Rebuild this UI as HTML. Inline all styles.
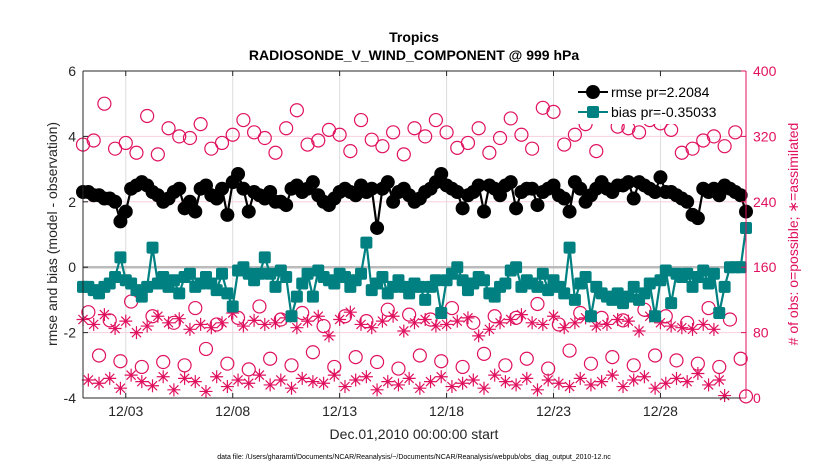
<!DOCTYPE html>
<html><head><meta charset="utf-8"><style>
body{margin:0;background:#fff;font-family:"Liberation Sans",sans-serif}
svg text{font-family:"Liberation Sans",sans-serif}
</style></head><body>
<svg id="chart" width="830" height="470" viewBox="0 0 830 470" xmlns="http://www.w3.org/2000/svg">
<rect width="830" height="470" fill="#fff"/>
<g id="grid"></g><g id="marks"></g><g id="axes"></g>
</svg>
<script>
const rmse=[2.3,2.3,2.2,2.2,2.1,2.1,2.0,1.4,1.7,2.4,2.5,2.6,2.5,2.3,2.2,2.0,2.1,2.3,2.4,1.8,2.0,1.7,2.4,2.5,2.2,2.1,2.4,1.6,2.6,2.85,2.4,1.7,
2.3,2.2,2.1,2.3,2.0,2.0,1.9,2.4,2.5,2.3,2.4,2.6,2.2,2.0,1.9,2.1,2.3,2.4,2.3,2.2,2.5,2.3,2.4,1.2,2.4,2.6,2.0,2.3,2.4,2.2,2.0,2.1,
2.3,2.4,2.6,2.85,2.5,2.4,2.3,1.8,2.2,2.3,2.5,1.7,2.5,2.4,2.2,2.5,2.6,1.8,2.3,2.4,2.4,1.9,2.3,2.4,2.5,2.2,2.1,1.7,2.6,2.4,2.0,2.2,
2.4,2.6,2.4,2.3,2.5,2.5,2.6,2.1,2.6,2.5,2.4,2.3,2.75,2.3,2.3,2.2,2.1,2.0,1.6,1.5,2.4,2.3,2.4,2.2,2.5,2.4,2.3,2.2,1.7];
const bias=[-0.6,-0.6,-0.7,-0.8,-0.6,-0.5,-0.3,0.3,-0.4,-0.5,-0.7,-0.9,-0.6,0.6,-0.5,-0.3,-0.6,-0.4,-0.8,-0.3,-0.2,-0.6,-0.5,-0.3,-0.5,-0.7,-0.2,-0.8,-1.2,-0.1,0.0,-0.2,
-0.4,-0.2,0.3,-0.2,-0.6,-0.1,-0.3,-1.5,-0.9,-0.5,-0.2,-0.9,-0.1,-0.3,-0.4,-0.5,-0.2,-0.3,-0.6,-0.4,-0.2,0.75,-0.7,-0.5,-0.3,-0.8,-0.6,-0.4,-0.6,-0.8,-0.5,-0.6,
-1.0,-0.6,-0.4,-1.4,-0.4,-0.2,0.0,-0.4,-0.7,-0.5,-0.3,-0.4,-0.8,-0.9,-0.6,-0.5,-0.1,0.0,-0.6,-0.4,-0.5,-0.6,-0.2,-0.7,-0.4,-0.6,-0.8,0.6,-1.0,-0.5,-0.3,-1.5,
-0.6,-0.8,-0.9,-1.0,-0.8,-1.1,-0.9,-0.6,-1.0,-0.8,-0.5,-1.5,-0.4,-0.1,-1.1,-0.2,-0.3,-0.2,-0.6,-0.3,-0.1,-0.5,-0.2,-1.4,-0.6,0.0,0.0,0.0,1.2];
const possible=[310,105,315,52,360,95,305,45,312,118,300,38,345,100,298,44,330,92,320,40,318,110,335,60,305,90,312,42,322,98,340,35,
325,112,318,48,300,96,330,40,352,104,310,56,315,88,328,38,322,100,302,50,340,94,316,44,308,108,325,36,298,102,330,52,
320,96,340,45,325,110,306,38,312,92,330,54,300,100,318,40,342,98,322,48,305,115,355,36,350,90,310,58,322,104,335,42,
302,98,345,50,332,95,330,40,325,108,340,52,336,100,328,46,300,92,305,42,315,110,320,38,308,96,325,48,2];
const assimilated=[96,22,90,18,102,24,85,12,94,28,80,20,88,15,100,26,92,10,97,24,84,20,90,8,86,26,92,14,104,22,88,18,
95,28,90,16,92,22,98,12,86,24,94,20,100,18,76,28,96,14,105,22,90,26,86,10,94,20,100,16,
82,24,92,12,96,20,88,26,90,14,94,18,98,22,76,12,84,28,92,20,96,16,102,24,92,10,90,22,100,18,86,14,
92,24,98,16,88,20,90,28,96,14,94,22,82,26,100,12,92,18,88,24,86,20,84,30,90,16,84,22,3];
const xTickLabels=["12/03","12/08","12/13","12/18","12/23","12/28"];
const xTickDays=[2,7,12,17,22,27];
const yLeftTicks=[-4,-2,0,2,4,6];
const yRightTicks=[0,80,160,240,320,400];

const L=83,R=746,T=71,B=398,NS="http://www.w3.org/2000/svg",RED="#e0115f",TEAL="#008080";
const xs=d=>L+d/31*(R-L);
const yl=v=>B-(v+4)/10*(B-T);
const yr=v=>B-v/400*(B-T);
function mk(tag,attrs,parent,txt){const e=document.createElementNS(NS,tag);for(const k in attrs)e.setAttribute(k,attrs[k]);if(txt!==undefined)e.textContent=txt;parent.appendChild(e);return e;}
const grid=document.getElementById('grid'),marks=document.getElementById('marks'),axes=document.getElementById('axes');

xTickDays.forEach((d,i)=>{const g=mk('line',{x1:xs(d),x2:xs(d),y1:T,y2:B,stroke:'#dcdcdc','stroke-width':1},grid);

});
yRightTicks.forEach(v=>{if(v===0||v===400||v===160)return;const g=mk('line',{x1:L,x2:R,y1:yr(v),y2:yr(v),stroke:'#f7cfdc','stroke-width':1},grid);

});
const z=mk('line',{x1:L,x2:R,y1:yl(0),y2:yl(0),stroke:'#bbbbbb','stroke-width':2.5},grid);



const n=rmse.length,xi=i=>xs(i*0.25);
function star(cx,cy,p){const s=6.5,d=s*0.7;const path=`M${cx-s},${cy}H${cx+s}M${cx},${cy-s}V${cy+s}M${cx-d},${cy-d}L${cx+d},${cy+d}M${cx-d},${cy+d}L${cx+d},${cy-d}`;return mk('path',{d:path,stroke:RED,'stroke-width':1.2,fill:'none'},p);}
assimilated.forEach((v,i)=>{const s=star(xi(i),yr(v),marks);

});
possible.forEach((v,i)=>{const c=mk('circle',{cx:xi(i),cy:yr(v),r:6.5,fill:'none',stroke:RED,'stroke-width':1.2},marks);

});
const bl=mk('polyline',{points:bias.map((v,i)=>xi(i)+','+yl(v)).join(' '),fill:'none',stroke:TEAL,'stroke-width':2.2},marks);


bias.forEach((v,i)=>{const s=mk('rect',{x:xi(i)-6,y:yl(v)-6,width:12,height:12,rx:2,fill:TEAL},marks);

});
const rl=mk('polyline',{points:rmse.map((v,i)=>xi(i)+','+yl(v)).join(' '),fill:'none',stroke:'#000','stroke-width':2.2},marks);


rmse.forEach((v,i)=>{const c=mk('circle',{cx:xi(i),cy:yl(v),r:7,fill:'#000'},marks);

});

mk('line',{x1:L,x2:R,y1:T,y2:T,stroke:'#262626','stroke-width':1},axes);
mk('line',{x1:L,x2:R,y1:B,y2:B,stroke:'#262626','stroke-width':1},axes);
mk('line',{x1:L,x2:L,y1:T,y2:B,stroke:'#262626','stroke-width':1},axes);
mk('line',{x1:R,x2:R,y1:T,y2:B,stroke:RED,'stroke-width':1},axes);
xTickDays.forEach((d,i)=>{mk('line',{x1:xs(d),x2:xs(d),y1:B,y2:B-5,stroke:'#262626'},axes);mk('line',{x1:xs(d),x2:xs(d),y1:T,y2:T+5,stroke:'#262626'},axes);
const t=mk('text',{x:xs(d),y:B+18,'text-anchor':'middle','font-size':14,fill:'#262626'},axes,xTickLabels[i]);

});
yLeftTicks.forEach(v=>{mk('line',{x1:L,x2:L+5,y1:yl(v),y2:yl(v),stroke:'#262626'},axes);
const t=mk('text',{x:L-7,y:yl(v)+5,'text-anchor':'end','font-size':14,fill:'#262626'},axes,String(v));

});
yRightTicks.forEach(v=>{mk('line',{x1:R,x2:R-5,y1:yr(v),y2:yr(v),stroke:RED},axes);
const t=mk('text',{x:R+7,y:yr(v)+5,'text-anchor':'start','font-size':14,fill:RED},axes,String(v));

});
</script>
<svg style="position:absolute;left:0;top:0" width="830" height="470">
<text x="414" y="42" text-anchor="middle" font-size="14" font-weight="bold" fill="#000">Tropics</text>
<text x="414" y="60" text-anchor="middle" font-size="14" font-weight="bold" fill="#000">RADIOSONDE_V_WIND_COMPONENT @ 999 hPa</text>
<text transform="translate(57,234) rotate(-90)" text-anchor="middle" font-size="14" fill="#262626">rmse and bias (model - observation)</text>
<text transform="translate(798,234) rotate(-90)" text-anchor="middle" font-size="14" fill="#e0115f"># of obs: o=possible; ∗=assimilated</text>
<text x="414" y="439" text-anchor="middle" font-size="14" fill="#262626">Dec.01,2010 00:00:00 start</text>
<text x="414" y="459" text-anchor="middle" font-size="7" fill="#000">data file: /Users/gharamti/Documents/NCAR/Reanalysis/~/Documents/NCAR/Reanalysis/webpub/obs_diag_output_2010-12.nc</text>
<g>
<rect x="573" y="78" width="170" height="46" fill="#fff"/>
<line x1="578" x2="608" y1="92" y2="92" stroke="#000" stroke-width="2"/>
<circle cx="593" cy="92" r="7" fill="#000"/>
<text x="611" y="97" font-size="14" fill="#000">rmse pr=2.2084</text>
<line x1="578" x2="608" y1="112" y2="112" stroke="#008080" stroke-width="2"/>
<rect x="587" y="106" width="12" height="12" rx="2" fill="#008080"/>
<text x="611" y="117" font-size="14" fill="#000">bias pr=-0.35033</text>
</g>
</svg>
</body></html>
